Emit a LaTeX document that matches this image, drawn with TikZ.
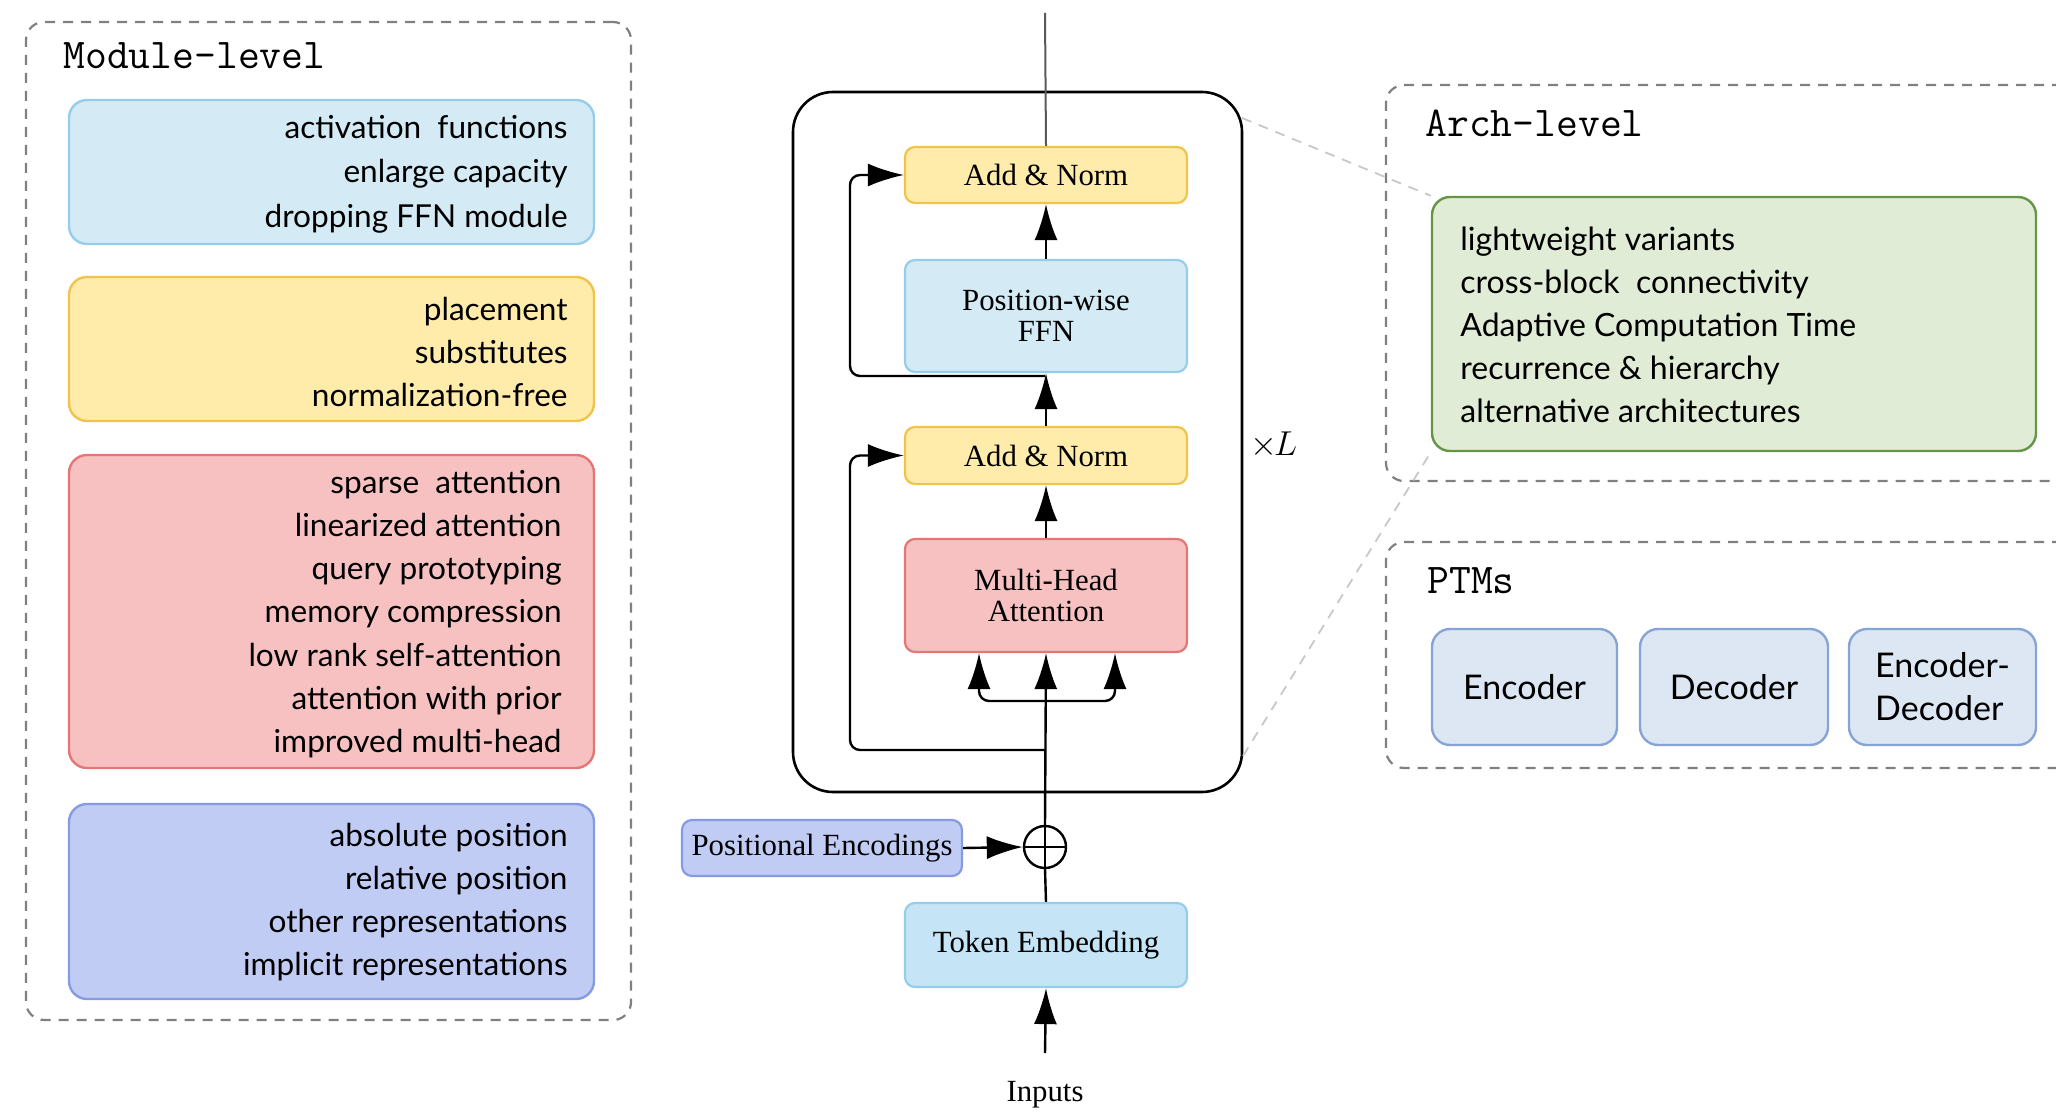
\documentclass[tikz,border=0pt]{standalone}
\usepackage{fontspec}
\setmainfont{Liberation Serif}
\newfontfamily\lsans{Lato}
\usetikzlibrary{fit,arrows.meta}
\definecolor{dgray}{RGB}{128,128,128}
\definecolor{lgray}{RGB}{200,200,200}
\definecolor{bluef}{RGB}{212,235,245}
\definecolor{blued}{RGB}{150,205,235}
\definecolor{tokf}{RGB}{197,229,246}
\definecolor{yelf}{RGB}{255,236,170}
\definecolor{yeld}{RGB}{240,195,75}
\definecolor{redf}{RGB}{247,193,193}
\definecolor{redd}{RGB}{228,118,118}
\definecolor{purf}{RGB}{193,204,245}
\definecolor{purd}{RGB}{135,155,225}
\definecolor{grnf}{RGB}{224,236,214}
\definecolor{grnd}{RGB}{100,150,70}
\definecolor{ptmf}{RGB}{220,231,243}
\definecolor{ptmd}{RGB}{135,165,212}
\begin{document}
\begin{tikzpicture}[x=0.5pt,y=-0.5pt,
  dashbox/.style={draw=dgray, line width=1.1pt, dash pattern=on 5pt off 4pt, rounded corners=9pt, inner sep=0pt},
  listbox/.style={line width=1.2pt, rounded corners=9pt, inner sep=0pt},
  blk/.style={line width=1.1pt, rounded corners=5pt, inner sep=0pt},
  listtxt/.style={font=\lsans\fontsize{15.8}{21.6}\selectfont, inner sep=0pt},
  sertxt/.style={font=\fontsize{15.4}{15.5}\selectfont, align=center, inner sep=0pt},
  monotxt/.style={font=\ttfamily\fontsize{21.2}{22}\selectfont, anchor=west, inner sep=0pt},
  arr/.style={line width=1.2pt, -{Latex[length=18pt,width=11.5pt]}},
  ln/.style={line width=1.2pt},
  zoomln/.style={draw=lgray, line width=0.9pt, dash pattern=on 5pt off 4pt}
]
\useasboundingbox (0,0) rectangle (2056,1112);
\clip (0,0) rectangle (2056,1112);

% ---------------- Module-level ----------------
\node[dashbox, fit={(26,22) (631,1020)}] (modbox) {};
\node[monotxt] (modtitle) at (63,56) {Module-level};

\node[listbox, draw=blued, fill=bluef, fit={(69,100) (594,244)}] (ffnopts) {};
\node[listtxt, anchor=east, align=right, font=\lsans\fontsize{15.8}{22.2}\selectfont] (ffntxt) at (568,174) {activation\ \ functions\\enlarge capacity\\dropping FFN module};

\node[listbox, draw=yeld, fill=yelf, fit={(69,277) (594,421)}] (lnopts) {};
\node[listtxt, anchor=east, align=right] (lntxt) at (568,352) {placement\\substitutes\\normalization-free};

\node[listbox, draw=redd, fill=redf, fit={(69,455) (594,768)}] (attopts) {};
\node[listtxt, anchor=east, align=right] (atttxt) at (562,614) {sparse\ \ attention\\linearized attention\\query prototyping\\memory compression\\low rank self-attention\\attention with prior\\improved multi-head};

\node[listbox, draw=purd, fill=purf, fit={(69,804) (594,999)}] (posopts) {};
\node[listtxt, anchor=east, align=right] (postxt) at (568,902) {absolute position\\relative position\\other representations\\implicit representations};

% ---------------- Transformer ----------------
\node[draw=black, line width=1.3pt, rounded corners=20pt, inner sep=0pt, fit={(793,92) (1242,792)}] (block) {};

\node[blk, draw=yeld, fill=yelf, fit={(905,147) (1187,203)}] (an2) {};
\node[sertxt] at (an2.center) {Add \& Norm};
\node[blk, draw=blued, fill=bluef, fit={(905,260) (1187,372)}] (ffn) {};
\node[sertxt] at (ffn.center) {Position-wise\\FFN};
\node[blk, draw=yeld, fill=yelf, fit={(905,427) (1187,484)}] (an1) {};
\node[sertxt] at (an1.center) {Add \& Norm};
\node[blk, draw=redd, fill=redf, fit={(905,539) (1187,652)}] (mha) {};
\node[sertxt] at (mha.center) {Multi-Head\\Attention};
\node[blk, draw=blued, fill=tokf, fit={(905,903) (1187,987)}] (tok) {};
\node[sertxt] at (tok.center) {Token Embedding};
\node[blk, draw=purd, fill=purf, fit={(682,820) (962,876)}] (pe) {};
\node[sertxt] at (pe.center) {Positional Encodings};

\node[circle, draw=black, line width=1.2pt, minimum size=21pt, inner sep=0pt] (oplus) at (1045,847) {};
\draw[ln] (oplus.north) -- (oplus.south) (oplus.west) -- (oplus.east);

\node[font=\fontsize{17}{18}\selectfont, inner sep=0pt] (xl) at (1274,445) {$\mathord{\times}\mkern-2mu L$};
\node[sertxt] (inputs) at (1045,1095) {Inputs};

\coordinate (inp) at (1045,1053);
\coordinate (top) at (1045,13);
\coordinate (sp) at (1045,701);
\coordinate (lq) at (979,701);
\coordinate (rq) at (1115,701);
\coordinate (r1s) at (1045,750);
\coordinate (r1x) at (850,750);
\coordinate (r2s) at (1045,376);
\coordinate (r2x) at (850,376);

\draw[arr] (inp) -- (tok.south);
\draw[ln] (tok.north) -- (oplus.south);
\draw[arr] (pe.east) -- (oplus.west);
\draw[arr] (oplus.north) -- (mha.south);
\draw[arr, rounded corners=5pt] (sp) -- (lq) -- (lq |- mha.south);
\draw[arr, rounded corners=5pt] (sp) -- (rq) -- (rq |- mha.south);
\draw[arr, rounded corners=5pt] (r1s) -- (r1x) |- (an1.west);
\draw[arr] (mha.north) -- (an1.south);
\draw[arr] (an1.north) -- (ffn.south);
\draw[arr, rounded corners=5pt] (r2s) -- (r2x) |- (an2.west);
\draw[arr] (ffn.north) -- (an2.south);
\draw[draw=black!65, line width=1pt] (an2.north) -- (top);

% ---------------- Arch-level ----------------
\node[dashbox, fit={(1386,85) (2080,481)}] (archbox) {};
\node[monotxt] (archtitle) at (1425,123) {Arch-level};
\node[listbox, draw=grnd, fill=grnf, fit={(1432,197) (2036,451)}] (arch) {};
\node[listtxt, anchor=west, align=left, font=\lsans\fontsize{16}{21.5}\selectfont] (archtxt) at (1460,325) {lightweight variants\\cross-block\ \ connectivity\\Adaptive Computation Time\\recurrence \& hierarchy\\alternative architectures};

% ---------------- PTMs ----------------
\node[dashbox, fit={(1386,542) (2080,768)}] (ptmbox) {};
\node[monotxt] (ptmtitle) at (1427,581) {PTMs};
\node[listbox, draw=ptmd, fill=ptmf, fit={(1432,629) (1617,745)}] (enc) {};
\node[listtxt, font=\lsans\fontsize{17}{21.5}\selectfont] at (enc.center) {Encoder};
\node[listbox, draw=ptmd, fill=ptmf, fit={(1640,629) (1828,745)}] (dec) {};
\node[listtxt, font=\lsans\fontsize{17}{21.5}\selectfont] at (dec.center) {Decoder};
\node[listbox, draw=ptmd, fill=ptmf, fit={(1849,629) (2036,745)}] (encdec) {};
\node[listtxt, font=\lsans\fontsize{17}{21.5}\selectfont, align=left] at (encdec.center) {Encoder-\\Decoder};

% ---------------- zoom lines ----------------
\coordinate (zl1) at (1242,118);
\coordinate (zl2) at (1243,756);
\draw[zoomln] (zl1) -- (arch.north west);
\draw[zoomln] (zl2) -- (arch.south west);
\end{tikzpicture}
\end{document}
